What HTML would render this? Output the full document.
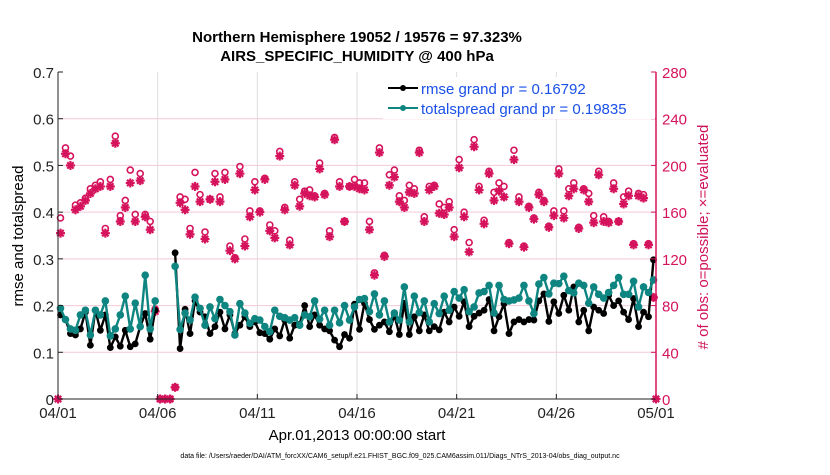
<!DOCTYPE html>
<html><head><meta charset="utf-8"><style>
body{margin:0;background:#fff;}
svg text{font-family:"Liberation Sans",Arial,sans-serif;}
</style></head><body>
<svg id="chart" width="830" height="470" viewBox="0 0 830 470" xmlns="http://www.w3.org/2000/svg">
<rect x="0" y="0" width="830" height="470" fill="#fff"/>
<text x="357" y="42" font-size="15" font-weight="bold" text-anchor="middle">Northern Hemisphere 19052 / 19576 = 97.323%</text>
<text x="357" y="61" font-size="15" font-weight="bold" text-anchor="middle">AIRS_SPECIFIC_HUMIDITY @ 400 hPa</text>
<g id="grid"></g>
<g id="marks"></g>
<g id="axes"></g>
<g>
<rect x="383" y="77" width="272" height="42" fill="#fff"/>
<line x1="388" y1="88" x2="418" y2="88" stroke="#000" stroke-width="2"/><circle cx="403" cy="88" r="3" fill="#000"/>
<text x="421" y="94" font-size="15" fill="#1a50e8">rmse grand pr = 0.16792</text>
<line x1="388" y1="108" x2="418" y2="108" stroke="#0e8580" stroke-width="2"/><circle cx="403" cy="108" r="3" fill="#0e8580"/>
<text x="421" y="114" font-size="15" fill="#1a50e8">totalspread grand pr = 0.19835</text>
</g>
<text transform="translate(23,236) rotate(-90)" font-size="15" text-anchor="middle">rmse and totalspread</text>
<text transform="translate(708,237) rotate(-90)" font-size="15" text-anchor="middle" fill="#d0145a"># of obs: o=possible; ×=evaluated</text>
<text x="357" y="440" font-size="15" text-anchor="middle">Apr.01,2013 00:00:00 start</text>
<text x="400" y="458" font-size="7" text-anchor="middle">data file: /Users/raeder/DAI/ATM_forcXX/CAM6_setup/f.e21.FHIST_BGC.f09_025.CAM6assim.011/Diags_NTrS_2013-04/obs_diag_output.nc</text>
</svg>
<script>
const rmse=[0.18,0.17,0.14,0.137,0.15,0.186,0.115,0.19,0.147,0.18,0.11,0.133,0.113,0.147,0.112,0.118,0.155,0.183,0.128,0.19,null,null,null,0.313,0.108,0.192,0.14,0.21,0.186,0.176,0.14,0.155,0.186,0.15,0.18,0.14,0.158,0.176,0.155,0.165,0.142,0.14,0.128,0.15,0.135,0.169,0.13,0.158,0.16,0.2,0.155,0.18,0.158,0.15,0.146,0.126,0.112,0.138,0.13,0.203,0.149,0.205,0.17,0.149,0.158,0.165,0.144,0.18,0.138,0.205,0.138,0.176,0.146,0.18,0.146,0.155,0.148,0.186,0.165,0.197,0.177,0.208,0.155,0.177,0.184,0.19,0.213,0.146,0.176,0.204,0.14,0.165,0.17,0.165,0.17,0.169,0.21,0.225,0.166,0.208,0.183,0.222,0.19,0.24,0.165,0.19,0.146,0.197,0.19,0.183,0.222,0.2,0.21,0.186,0.17,0.215,0.155,0.186,0.176,0.298];
const spread=[0.194,0.17,0.15,0.147,0.18,0.19,0.137,0.19,0.18,0.21,0.135,0.15,0.18,0.22,0.15,0.205,0.155,0.265,0.15,0.21,null,null,null,0.284,0.149,0.184,0.169,0.218,0.194,0.158,0.197,0.172,0.213,0.2,0.187,0.137,0.204,0.184,0.162,0.172,0.169,0.155,0.144,0.19,0.177,0.174,0.169,0.174,0.158,0.18,0.176,0.21,0.171,0.19,0.158,0.19,0.163,0.2,0.169,0.197,0.213,0.215,0.187,0.225,0.18,0.21,0.165,0.184,0.169,0.24,0.165,0.22,0.185,0.21,0.165,0.204,0.183,0.22,0.19,0.23,0.216,0.234,0.187,0.197,0.227,0.23,0.243,0.184,0.243,0.213,0.21,0.212,0.216,0.243,0.21,0.183,0.246,0.26,0.225,0.248,0.247,0.263,0.232,0.227,0.248,0.243,0.205,0.24,0.224,0.216,0.228,0.243,0.26,0.224,0.224,0.252,0.197,0.24,0.228,0.255];
const possible=[155,215,208,166,168,172,180,183,186,146,188,225,157,170,196,158,193,158,152,77,0,0,0,10,173,171,146,194,175,143,171,193,173,194,131,121,199,137,161,186,161,189,149,144,212,164,136,186,171,178,179,174,202,176,144,224,186,152,182,188,185,185,152,108,215,123,192,196,174,170,183,180,213,156,182,183,167,164,169,145,205,160,134,222,182,153,195,177,185,182,134,213,173,131,165,155,177,170,148,161,197,161,180,185,147,180,176,157,195,156,152,185,152,173,178,133,176,175,133,87];
const evaluated=[142,210,200,162,165,170,176,180,182,142,182,219,152,164,185,152,187,156,145,75,0,0,0,10,168,162,141,182,169,137,171,186,169,188,127,120,193,131,156,179,160,188,144,138,208,162,132,183,165,176,174,173,197,175,139,222,182,152,182,182,180,179,145,106,211,122,183,190,169,164,177,176,211,152,179,182,159,158,164,139,198,156,126,216,179,150,193,170,178,173,133,205,169,130,164,154,175,169,147,157,193,155,174,180,146,179,169,151,192,152,151,180,152,167,174,132,174,172,132,87];
const edgeDays=[0,30];
const edgeObs=[0,0];
const xTicks=["04/01","04/06","04/11","04/16","04/21","04/26","05/01"];
const yTicksLeft=[0,0.1,0.2,0.3,0.4,0.5,0.6,0.7];
const yTicksRight=[0,40,80,120,160,200,240,280];

const NS='http://www.w3.org/2000/svg';
const X0=58,X1=656,Y0=399,Y1=72;
const xs=d=>X0+(X1-X0)*d/30;
const yL=v=>Y0-(Y0-Y1)*v/0.7;
const yR=v=>Y0-(Y0-Y1)*v/280;
const dayOf=i=>i*0.25+0.125;
function mk(tag,attrs,parent){const e=document.createElementNS(NS,tag);for(const k in attrs)e.setAttribute(k,attrs[k]);parent.appendChild(e);return e;}
const grid=document.getElementById('grid'),marks=document.getElementById('marks'),axes=document.getElementById('axes');
const PINK='#d5135c',TEAL='#0e8580';

xTicks.forEach((t,i)=>{const x=xs(i*5);
 if(i>0&&i<6){const g=mk('line',{x1:x,x2:x,y1:Y1,y2:Y0,stroke:'#dddddd','stroke-width':1},grid);
 
 }
 const tk=mk('line',{x1:x,x2:x,y1:Y0,y2:Y0-5,stroke:'#222'},axes);
 
 
 const tx=mk('text',{x:x,y:Y0+19,'font-size':15,'text-anchor':'middle',fill:'#222'},axes);tx.textContent=t;
 
 
});
yTicksRight.forEach(v=>{const y=yR(v);
 if(v>0&&v<280){const g=mk('line',{x1:X0,x2:X1,y1:y,y2:y,stroke:'#f3c9d7','stroke-width':1},grid);
 
 }
 const tk=mk('line',{x1:X1,x2:X1-5,y1:y,y2:y,stroke:PINK},axes);
 
 
 const tx=mk('text',{x:X1+6,y:y+6,'font-size':15,fill:PINK},axes);tx.textContent=v;
 
 
});
yTicksLeft.forEach(v=>{const y=yL(v);
 const tk=mk('line',{x1:X0,x2:X0+5,y1:y,y2:y,stroke:'#222'},axes);
 
 
 const tx=mk('text',{x:X0-4,y:y+6,'font-size':15,'text-anchor':'end',fill:'#222'},axes);tx.textContent=v===0?'0':v.toFixed(1);
 
 
});
const la=mk('line',{x1:X0,x2:X0,y1:Y1,y2:Y0,stroke:'#222'},axes);


const ba=mk('line',{x1:X0,x2:X1,y1:Y0,y2:Y0,stroke:'#222'},axes);


const ra=mk('line',{x1:X1,x2:X1,y1:Y1,y2:Y0,stroke:PINK,'stroke-width':1.5},axes);



function star(cx,cy,parent){const g=mk('g',{stroke:PINK,'stroke-width':2.2},parent);
 mk('line',{x1:cx-4.5,x2:cx+4.5,y1:cy,y2:cy},g);mk('line',{x1:cx,x2:cx,y1:cy-4.5,y2:cy+4.5},g);
 mk('line',{x1:cx-3.2,x2:cx+3.2,y1:cy-3.2,y2:cy+3.2},g);mk('line',{x1:cx-3.2,x2:cx+3.2,y1:cy+3.2,y2:cy-3.2},g);return g;}
possible.forEach((v,i)=>{const c=mk('circle',{cx:xs(dayOf(i)),cy:yR(v),r:3,fill:'none',stroke:PINK,'stroke-width':1.6},marks);
 
 });
evaluated.forEach((v,i)=>{const s=star(xs(dayOf(i)),yR(v),marks);
 
 });
edgeDays.forEach((d,i)=>{const s=star(xs(d),yR(edgeObs[i]),marks);
 
 });
function series(arr,color,r,name){
 let segs=[],cur=[];
 arr.forEach((v,i)=>{if(v===null){if(cur.length)segs.push(cur);cur=[];}else cur.push([xs(dayOf(i)),yL(v)]);});
 if(cur.length)segs.push(cur);
 segs.forEach(s=>{const p=mk('polyline',{points:s.map(q=>q.join(',')).join(' '),fill:'none',stroke:color,'stroke-width':2.4,'stroke-linejoin':'round'},marks);
  
  });
 arr.forEach((v,i)=>{if(v===null)return;const c=mk('circle',{cx:xs(dayOf(i)),cy:yL(v),r:r,fill:color},marks);
  
  });
}
series(rmse,'#000',3.4,'rmse');
series(spread,TEAL,3.8,'totalspread');
</script>
</body></html>
